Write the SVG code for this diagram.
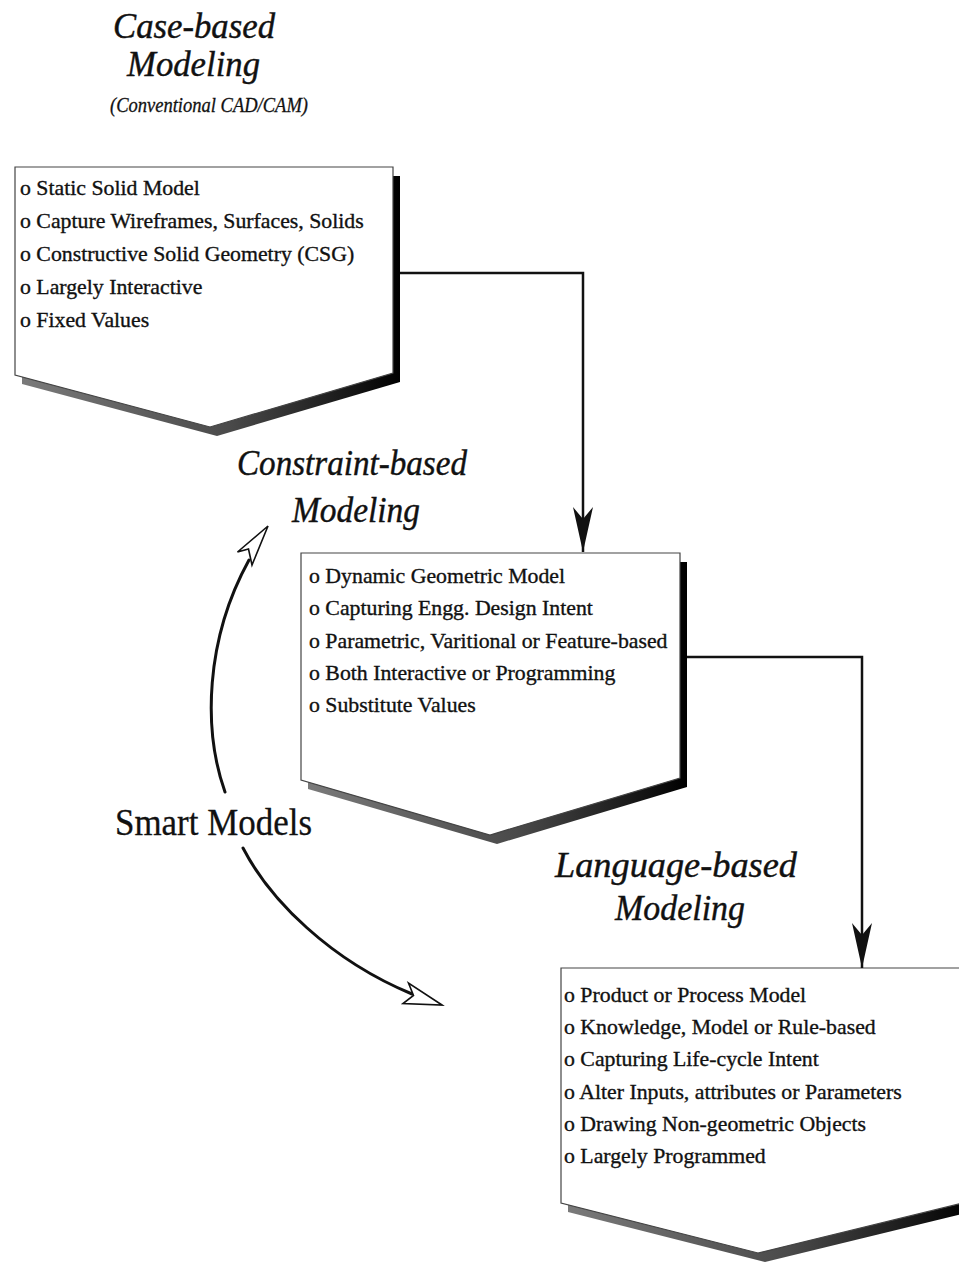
<svg xmlns="http://www.w3.org/2000/svg" width="959" height="1267" viewBox="0 0 959 1267">
  <style>
    .title { font-family: "Liberation Serif", "Times New Roman", serif; font-style: italic; font-size: 35px; fill: #111; stroke: #111; stroke-width: 0.4; text-anchor: middle; }
    .sub { font-family: "Liberation Serif", "Times New Roman", serif; font-style: italic; font-size: 21px; fill: #111; stroke: #111; stroke-width: 0.3; text-anchor: middle; }
    .item { font-family: "Liberation Serif", "Times New Roman", serif; font-size: 21.8px; fill: #111; stroke: #111; stroke-width: 0.35; }
    .smart { font-family: "Liberation Serif", "Times New Roman", serif; font-size: 38px; fill: #111; stroke: #111; stroke-width: 0.3; }
    .box { fill: #fff; stroke: #444; stroke-width: 1.2; }
    .shadow { fill: url(#shade); }
    .wire { fill: none; stroke: #111; stroke-width: 2.5; }
    .curve { fill: none; stroke: #111; stroke-width: 3; stroke-linecap: round; }
    .hollow { fill: #fff; stroke: #111; stroke-width: 1.6; stroke-linejoin: miter; }
  </style>
  <defs>
    <linearGradient id="shade" x1="0" y1="0" x2="1" y2="0">
      <stop offset="0" stop-color="#7a7a7a"/>
      <stop offset="0.55" stop-color="#4a4a4a"/>
      <stop offset="0.85" stop-color="#1a1a1a"/>
      <stop offset="1" stop-color="#000"/>
    </linearGradient>
    <!-- notched solid arrowhead, tip at the path end -->
    <marker id="barb" markerUnits="userSpaceOnUse" markerWidth="50" markerHeight="24" viewBox="-48 -12 50 24" refX="0" refY="0" orient="auto">
      <path d="M0,0 L-45,-10 L-33,0 L-45,10 Z" fill="#111"/>
    </marker>
  </defs>

  <!-- Case-based modeling -->
  <g id="case-based">
    <text class="title" x="194" y="38" textLength="162" lengthAdjust="spacingAndGlyphs">Case-based</text>
    <text class="title" x="193.5" y="76" textLength="133" lengthAdjust="spacingAndGlyphs">Modeling</text>
    <text class="sub" x="209" y="112" textLength="198" lengthAdjust="spacingAndGlyphs">(Conventional CAD/CAM)</text>
    <polygon class="shadow" points="22,176 400,176 400,382 217,436 22,384"/>
    <polygon class="box" points="15,167 393,167 393,373 210,427 15,375"/>
    <text class="item" x="20" y="195">o Static Solid  Model</text>
    <text class="item" x="20" y="228">o Capture Wireframes, Surfaces, Solids</text>
    <text class="item" x="20" y="261">o Constructive Solid  Geometry (CSG)</text>
    <text class="item" x="20" y="294">o Largely  Interactive</text>
    <text class="item" x="20" y="327">o  Fixed Values</text>
  </g>

  <!-- Constraint-based modeling -->
  <g id="constraint-based">
    <text class="title" x="352" y="475" textLength="230" lengthAdjust="spacingAndGlyphs">Constraint-based</text>
    <text class="title" x="356" y="522" textLength="128" lengthAdjust="spacingAndGlyphs">Modeling</text>
    <polygon class="shadow" points="308,562 687,562 687,787 497,844 308,789"/>
    <polygon class="box" points="301,553 680,553 680,778 490,835 301,780"/>
    <text class="item" x="309" y="583">o Dynamic Geometric Model</text>
    <text class="item" x="309" y="615">o Capturing Engg. Design Intent</text>
    <text class="item" x="309" y="648">o Parametric, Varitional or Feature-based</text>
    <text class="item" x="309" y="680">o Both Interactive or Programming</text>
    <text class="item" x="309" y="712">o  Substitute Values</text>
  </g>

  <!-- Language-based modeling -->
  <g id="language-based">
    <text class="title" x="676" y="877" textLength="242" lengthAdjust="spacingAndGlyphs">Language-based</text>
    <text class="title" x="680" y="920" textLength="130" lengthAdjust="spacingAndGlyphs">Modeling</text>
    <polygon class="shadow" points="568,977 970,977 970,1212 765,1262 568,1212"/>
    <polygon class="box" points="561,968 963,968 963,1203 758,1253 561,1203"/>
    <text class="item" x="564" y="1002">o Product or Process  Model</text>
    <text class="item" x="564" y="1034">o Knowledge, Model or Rule-based</text>
    <text class="item" x="564" y="1066">o Capturing Life-cycle Intent</text>
    <text class="item" x="564" y="1099">o Alter Inputs, attributes or Parameters</text>
    <text class="item" x="564" y="1131">o Drawing Non-geometric Objects</text>
    <text class="item" x="564" y="1163">o Largely Programmed</text>
  </g>

  <!-- Smart models label -->
  <g id="smart-models">
    <text class="smart" x="115" y="835" textLength="197" lengthAdjust="spacingAndGlyphs">Smart Models</text>
  </g>

  <!-- Connectors -->
  <g id="connectors">
    <path class="wire" d="M400,273 H583 V552" marker-end="url(#barb)"/>
    <path class="wire" d="M687,657 H862 V968" marker-end="url(#barb)"/>

    <!-- curved arrows around "Smart Models" -->
    <path class="curve" d="M225,792 C203,730 205,640 249,560"/>
    <polygon class="hollow" points="268,526 237.5,552 248.5,549 252,565"/>
    <path class="curve" d="M243,848 C270,900 330,960 412,994"/>
    <polygon class="hollow" points="442,1005 408.5,983 413.5,995.5 403,1003.5"/>
  </g>
</svg>
